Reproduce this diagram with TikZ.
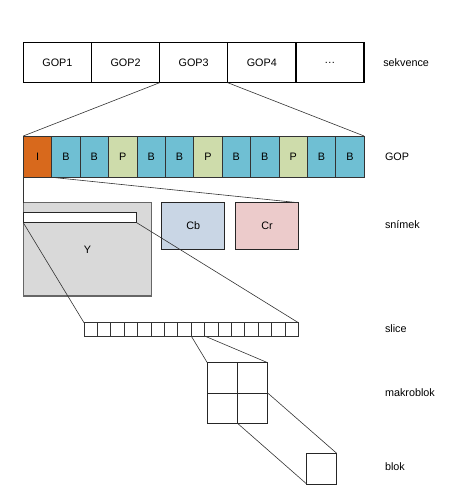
\documentclass[tikz,border=0pt]{standalone}
\usepackage{fontspec}
\setmainfont{Liberation Sans}
\definecolor{colI}{HTML}{D8691C}
\definecolor{colB}{HTML}{6FBFD3}
\definecolor{colP}{HTML}{CEDCAB}
\definecolor{colY}{HTML}{D9D9D9}
\definecolor{colCb}{HTML}{C9D6E5}
\definecolor{colCr}{HTML}{ECCBCB}
\begin{document}
\begin{tikzpicture}[x=1pt,y=-1pt,
  every node/.style={font=\fontsize{10.8}{12}\selectfont, inner sep=0pt, outer sep=0pt},
  topbox/.style={draw=black, line width=1.4pt, fill=white, anchor=north west, minimum width=68.15pt, minimum height=40pt},
  gopcell/.style={draw=black!80, line width=0.8pt, anchor=north west, minimum width=28.4pt, minimum height=41.3pt},
  slicecell/.style={draw=black!80, line width=0.8pt, fill=white, anchor=north west, minimum width=13.4pt, minimum height=13.3pt},
  mbcell/.style={draw=black!85, line width=1pt, fill=white, anchor=north west, minimum width=30.2pt, minimum height=30.3pt},
  conn/.style={draw=black!80, line width=0.6pt},
  lbl/.style={anchor=west}
]
\useasboundingbox (0,0) rectangle (463,495);

% sequence
\foreach \i/\t in {1/GOP1,2/GOP2,3/GOP3,4/GOP4}
  \node[topbox] (g\i) at ({23.3+(\i-1)*68.15},42.7) {\t};
\node[topbox] (g5) at ({23.3+4*68.15},42.7) {.\kern0.5pt.\kern0.5pt.};

% GOP frames
\foreach \i/\t/\c in {1/I/colI,2/B/colB,3/B/colB,4/P/colP,5/B/colB,6/B/colB,7/P/colP,8/B/colB,9/B/colB,10/P/colP,11/B/colB,12/B/colB}
  \node[gopcell, fill=\c] (c\i) at ({23.3+(\i-1)*28.4},136) {\t};

% picture planes
\node[draw=black!60, line width=1.3pt, fill=colY, anchor=north west, minimum width=128.4pt, minimum height=93.3pt] (Y) at (23.3,202.7) {};
\node at (87.5,249.3) (Ylab) {Y};
\node[draw=black!85, line width=1pt, fill=white, anchor=north west, minimum width=113.4pt, minimum height=10pt] (strip) at (23.3,212.7) {};
\node[draw=black!85, line width=1pt, fill=colCb, anchor=north west, minimum width=63pt, minimum height=46.6pt] (Cb) at (161.7,202.7) {Cb};
\node[draw=black!85, line width=1pt, fill=colCr, anchor=north west, minimum width=62.6pt, minimum height=46.6pt] (Cr) at (235.7,202.7) {Cr};

% slice
\foreach \i in {1,...,16}
  \node[slicecell] (s\i) at ({84+(\i-1)*13.4},322.7) {};

% macroblock
\node[mbcell] (m11) at (207.3,362.7) {};
\node[mbcell] (m12) at (237.5,362.7) {};
\node[mbcell] (m21) at (207.3,393) {};
\node[mbcell] (m22) at (237.5,393) {};

% block
\node[draw=black!85, line width=1pt, fill=white, anchor=north west, minimum width=30pt, minimum height=30.7pt] (blk) at (306.7,453.3) {};

% connectors
\draw[conn] (g3.south west) -- (c1.north west);
\draw[conn] (g3.south east) -- (c12.north east);
\draw[conn] (c1.south west) -- (Y.north west);
\draw[conn] (c1.south east) -- (Cr.north east);
\draw[conn] (strip.south west) -- (s1.north west);
\draw[conn] (strip.south east) -- (s16.north east);
\draw[conn] (s9.south west) -- (m11.north west);
\draw[conn] (s9.south east) -- (m12.north east);
\draw[conn] (m22.north east) -- (blk.north east);
\draw[conn] (m22.south west) -- (blk.south west);

% level labels
\node[lbl] (l1) at (383.3,62.5) {sekvence};
\node[lbl] (l2) at (385,156.7) {GOP};
\node[lbl] (l3) at (385,225) {snímek};
\node[lbl] (l4) at (385,328.5) {slice};
\node[lbl] (l5) at (385,393) {makroblok};
\node[lbl] (l6) at (385,466.7) {blok};
\end{tikzpicture}
\end{document}
